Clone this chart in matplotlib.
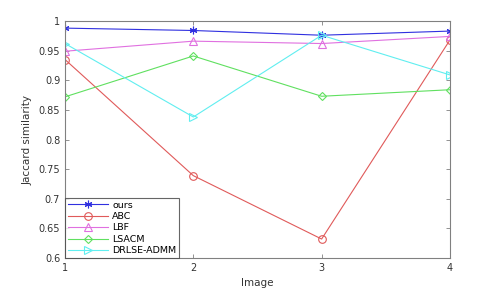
import matplotlib.pyplot as plt

images = [1, 2, 3, 4]
ours = [0.988, 0.984, 0.976, 0.983]
abc = [0.935, 0.739, 0.632, 0.968]
lbf = [0.949, 0.966, 0.962, 0.974]
lsacm = [0.872, 0.941, 0.873, 0.884]
drlse = [0.962, 0.838, 0.976, 0.909]

y_ticks = [0.6, 0.65, 0.7, 0.75, 0.8, 0.85, 0.9, 0.95, 1.0]
y_labels = ["0.6", "0.65", "0.7", "0.75", "0.8", "0.85", "0.9", "0.95", "1"]

# matlab-style asterisk for "ours"
series = [
    ("ours", ours, "#3030e0", (6, 2, 0)),
    ("ABC", abc, "#e05a5a", "o"),
    ("LBF", lbf, "#e070e0", "^"),
    ("LSACM", lsacm, "#60e060", "D"),
    ("DRLSE-ADMM", drlse, "#60eef0", ">"),
]

fig = plt.figure(figsize=(4.98, 2.91), dpi=100)
ax = fig.add_axes([0.1305, 0.1134, 0.773, 0.8144])

for name, vals, color, marker in series:
    ms = 4.5 if marker == "D" else 5.5
    ax.plot(images, vals, color=color, marker=marker, markersize=ms,
            markerfacecolor="none", markeredgecolor=color,
            markeredgewidth=0.8, linewidth=0.8, label=name)

ax.set_xlim(1, 4)
ax.set_ylim(0.6, 1.0)
ax.set_xticks(images)
ax.set_yticks(y_ticks)
ax.set_yticklabels(y_labels)
ax.tick_params(direction="in", length=3, width=0.6, color="#808080",
               labelsize=7, labelcolor="#333333", top=True, right=True)
for s in ax.spines.values():
    s.set_color("#808080")
    s.set_linewidth(0.8)
ax.set_xlabel("Image", fontsize=7.5, color="#333333")
ax.set_ylabel("Jaccard similarity", fontsize=7.5, color="#333333")

leg = ax.legend(loc="lower left", fontsize=6.8, frameon=True, fancybox=False,
                borderaxespad=0, handlelength=4.3, labelspacing=0.25,
                borderpad=0.3, handletextpad=0.4)
leg.get_frame().set_edgecolor("#404040")
leg.get_frame().set_linewidth(0.8)

fig.savefig("out.png", dpi=100)
